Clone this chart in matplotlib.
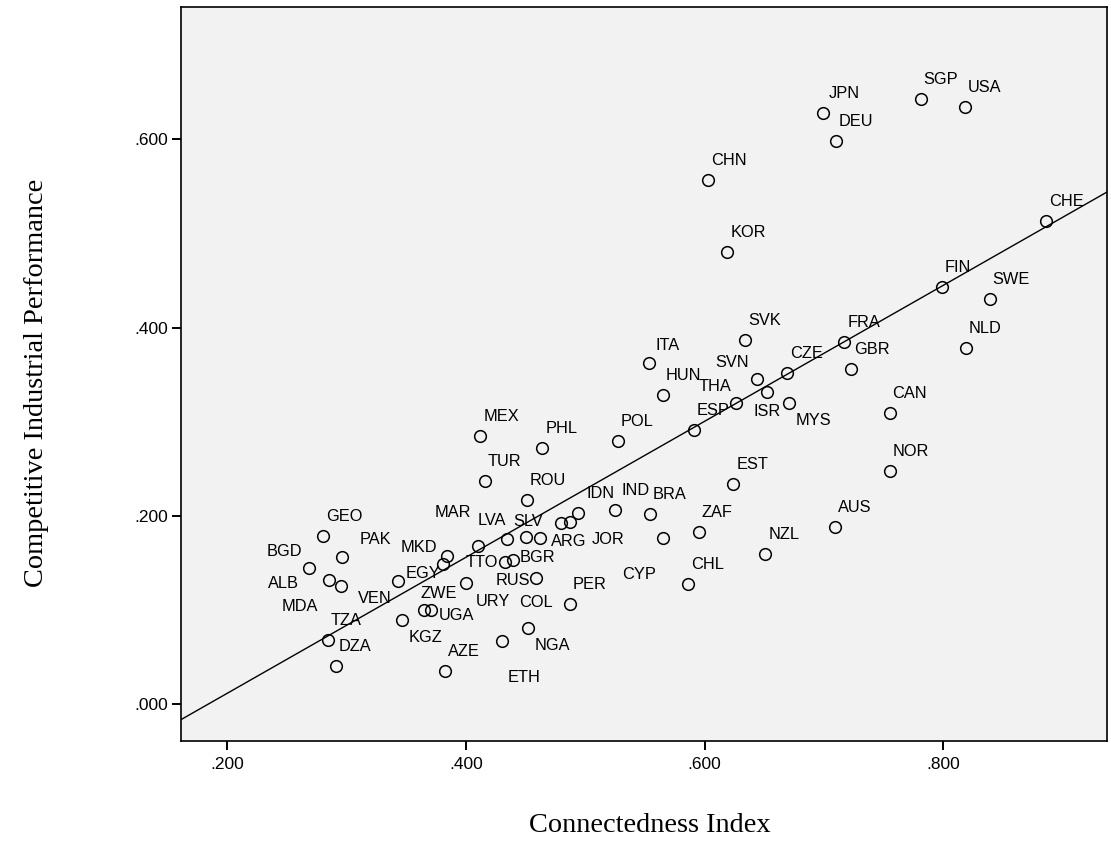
import numpy as np
import matplotlib
matplotlib.use("Agg")
import matplotlib.pyplot as plt
from matplotlib.ticker import FuncFormatter, FixedLocator

# ---------------- data ----------------
countries = ["JPN", "DEU", "SGP", "USA", "CHN", "KOR", "CHE", "FIN", "SWE", "NLD",
             "SVK", "FRA", "ITA", "CZE", "GBR", "SVN", "HUN", "THA", "ESP", "ISR",
             "MYS", "CAN", "POL", "MEX", "PHL", "TUR", "ROU", "NOR", "EST",
             "IDN", "IND", "BRA", "ZAF", "AUS", "NZL", "CHL", "PER", "CYP", "ARG",
             "JOR", "GEO", "PAK", "BGD", "ALB", "MDA", "VEN", "EGY", "MKD", "MAR",
             "LVA", "SLV", "RUS", "TTO", "BGR", "URY", "COL", "ZWE", "UGA", "KGZ",
             "TZA", "DZA", "AZE", "ETH", "NGA"]

connectedness = [0.699, 0.710, 0.781, 0.818, 0.603, 0.619, 0.886, 0.799, 0.839, 0.819,
                 0.634, 0.717, 0.553, 0.669, 0.723, 0.644, 0.565, 0.626, 0.591, 0.652,
                 0.671, 0.755, 0.527, 0.412, 0.464, 0.416, 0.451, 0.755, 0.624,
                 0.494, 0.525, 0.554, 0.595, 0.709, 0.651, 0.586, 0.487, 0.565, 0.480,
                 0.487, 0.280, 0.296, 0.268, 0.285, 0.295, 0.343, 0.381, 0.384, 0.410,
                 0.434, 0.450, 0.462, 0.433, 0.439, 0.400, 0.459, 0.365, 0.371, 0.346,
                 0.284, 0.291, 0.382, 0.430, 0.452]

performance = [0.628, 0.598, 0.643, 0.634, 0.557, 0.480, 0.513, 0.443, 0.430, 0.378,
               0.387, 0.385, 0.362, 0.352, 0.356, 0.345, 0.328, 0.320, 0.291, 0.332,
               0.320, 0.309, 0.279, 0.285, 0.272, 0.237, 0.217, 0.248, 0.234,
               0.203, 0.206, 0.202, 0.183, 0.188, 0.160, 0.128, 0.106, 0.176, 0.192,
               0.193, 0.179, 0.156, 0.145, 0.132, 0.126, 0.131, 0.149, 0.157, 0.168,
               0.175, 0.178, 0.176, 0.151, 0.153, 0.129, 0.134, 0.100, 0.100, 0.089,
               0.068, 0.041, 0.035, 0.067, 0.081]

x_ticks = [0.2, 0.4, 0.6, 0.8]
y_ticks = [0.0, 0.2, 0.4, 0.6]
x_title = "Connectedness Index"
y_title = "Competitive Industrial Performance"

# ---------------- label placement (pixel offsets: left edge, centre) ----------------
DEFAULT_OFF = (3, 19.5)
label_offsets = {
    "JPN": (5.7, 19.4), "ITA": (7, 18.3), "IDN": (8, 19.4), "IND": (6.4, 19.3),
    "PAK": (17.7, 18), "SVN": (-41.8, 16.6), "THA": (-36.8, 16.3),
    "ISR": (-13, -19.7), "MYS": (6.7, -17.7), "CYP": (-40.8, -35.7),
    "JOR": (21.6, -17.3), "ARG": (-10.7, -17.7), "BGD": (-42, 16.3),
    "ALB": (-60.6, -4), "MDA": (-59.3, -21), "VEN": (-40, -17.6),
    "KGZ": (6.6, -16.7), "ETH": (6, -36), "NGA": (6.7, -17.7),
    "URY": (10, -19), "COL": (-17, -24), "ZWE": (-3.3, 16.7),
    "UGA": (7.6, -5.7), "RUS": (-44.3, -41.7), "TTO": (-40, -0.4),
    "BGR": (7.3, 2.7), "EGY": (-37.4, -10), "MKD": (-46, 8.4),
    "MAR": (-43.3, 34), "LVA": (-29.4, 18.6), "SLV": (-12.6, 15.3),
}

# ---------------- figure ----------------
W, H = 1111, 844
fig = plt.figure(figsize=(W / 100, H / 100), dpi=100)
ax_left, ax_right, ax_top, ax_bottom = 181, 1106.5, 7, 741
ax = fig.add_axes([ax_left / W, 1 - ax_bottom / H,
                   (ax_right - ax_left) / W, (ax_bottom - ax_top) / H])
ax.set_facecolor("#F2F2F2")

ax.set_xlim(0.1611, 0.9369)
ax.set_ylim(-0.039, 0.7403)

# regression line (least squares fit of the plotted points)
slope, intercept = np.polyfit(connectedness, performance, 1)
xl = np.array(ax.get_xlim())
ax.plot(xl, intercept + slope * xl, color="black", lw=1.0, zorder=2)

ax.plot(connectedness, performance, linestyle="none", marker="o", ms=8.4,
        mfc="none", mec="black", mew=1.1, zorder=3)

for c, xv, yv in zip(countries, connectedness, performance):
    dx, dy = label_offsets.get(c, DEFAULT_OFF)
    ax.annotate(c, (xv, yv), xytext=(dx, dy), textcoords="offset pixels",
                ha="left", va="center", fontsize=11.8,
                family="Liberation Sans", color="black", zorder=4)

fmt = FuncFormatter(lambda v, p: f"{v:.3f}".lstrip("0") if v >= 0 else f"{v:.3f}")
ax.xaxis.set_major_locator(FixedLocator(x_ticks))
ax.yaxis.set_major_locator(FixedLocator(y_ticks))
ax.xaxis.set_major_formatter(fmt)
ax.yaxis.set_major_formatter(fmt)
ax.tick_params(direction="out", length=6.5, width=1.4, colors="black",
               labelsize=12.5, pad=3)
for lab in ax.get_xticklabels() + ax.get_yticklabels():
    lab.set_family("Liberation Sans")
ax.tick_params(axis="x", pad=5)

for s in ax.spines.values():
    s.set_color("black")
    s.set_linewidth(1.2)

ax.set_xlabel(x_title, family="Liberation Serif", fontsize=20.4)
ax.set_ylabel(y_title, family="Liberation Serif", fontsize=20.4)
ax.xaxis.label.set_va("center")
ax.yaxis.label.set_va("center")
ax.xaxis.set_label_coords((650 - ax_left) / (ax_right - ax_left),
                          (ax_bottom - 826) / (ax_bottom - ax_top))
ax.yaxis.set_label_coords((37 - ax_left) / (ax_right - ax_left),
                          (ax_bottom - 383) / (ax_bottom - ax_top))

fig.savefig("out.png", dpi=100, facecolor="white")
